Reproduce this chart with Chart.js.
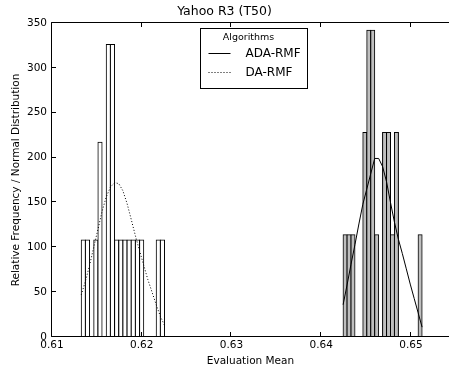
<!DOCTYPE html>
<html>
<head>
<meta charset="utf-8">
<script src="https://cdn.jsdelivr.net/npm/chart.js@4/dist/chart.umd.min.js"></script>
<style>
  html, body { margin: 0; padding: 0; background: #fff; }
</style>
</head>
<body>
<canvas id="histChart" width="449" height="369"></canvas>
<script>
// DA-RMF histogram (white bars) - bin edges and bar heights
const daEdges = [0.61326, 0.61372, 0.61419, 0.61465, 0.61512, 0.61558, 0.61604, 0.61651, 0.61697, 0.61744,
                 0.61790, 0.61836, 0.61883, 0.61929, 0.61976, 0.62022, 0.62068, 0.62115, 0.62161, 0.62208, 0.62254];
const daHeights = [108, 108, 0, 108, 217, 0, 326, 326, 108, 108, 108, 108, 108, 108, 108, 0, 0, 0, 108, 108];
const daCurve = [47, 62, 80, 100, 120, 140, 156, 167, 172, 171, 163, 149, 131, 113, 96, 80, 64, 50, 36, 23, 13];

// ADA-RMF histogram (grey bars)
const adaEdges = [0.64244, 0.64288, 0.64332, 0.64376, 0.64420, 0.64464, 0.64508, 0.64552, 0.64596, 0.64640,
                  0.64684, 0.64728, 0.64772, 0.64816, 0.64860, 0.64904, 0.64948, 0.64992, 0.65036, 0.65080, 0.65124];
const adaHeights = [114, 114, 114, 0, 0, 228, 342, 342, 114, 0, 228, 228, 114, 228, 0, 0, 0, 0, 0, 114];
const adaCurve = [36, 58, 81, 103, 126, 148, 165, 182, 199, 199, 190, 173, 150, 128, 109, 93, 76, 59, 43, 27, 11];

const xTicks = [0.61, 0.62, 0.63, 0.64, 0.65];
const yTicks = [0, 50, 100, 150, 200, 250, 300, 350];

const FONT = 'DejaVu Sans';

const barPoints = (edges, heights) => {
    const pts = [];
    heights.forEach((h, i) => {
        if (h > 0) pts.push({ x: (edges[i] + edges[i + 1]) / 2, y: h });
    });
    return pts;
};
const curvePoints = (edges, values) => edges.map((e, i) => ({ x: e, y: values[i] }));

// matplotlib-like box with inward ticks
const framePlugin = {
    id: 'frame',
    afterDatasetsDraw(chart) {
        const { ctx, chartArea: a, scales } = chart;
        ctx.save();
        ctx.strokeStyle = '#000';
        ctx.lineWidth = 1;
        ctx.beginPath();
        ctx.moveTo(a.left - 0.5, a.top - 0.5);
        ctx.lineTo(a.left - 0.5, a.bottom - 0.5);
        ctx.lineTo(a.right, a.bottom - 0.5);
        ctx.moveTo(a.left - 0.5, a.top - 0.5);
        ctx.lineTo(a.right, a.top - 0.5);
        scales.x.ticks.forEach(t => {
            const px = Math.round(scales.x.getPixelForValue(t.value)) - 0.5;
            ctx.moveTo(px, a.bottom - 0.5);
            ctx.lineTo(px, a.bottom - 5);
            ctx.moveTo(px, a.top - 0.5);
            ctx.lineTo(px, a.top + 4);
        });
        scales.y.ticks.forEach(t => {
            const py = Math.round(scales.y.getPixelForValue(t.value)) - 0.5;
            ctx.moveTo(a.left - 0.5, py);
            ctx.lineTo(a.left + 4, py);
        });
        ctx.stroke();
        ctx.restore();
    }
};

// boxed legend with title, like the original
const legendPlugin = {
    id: 'boxLegend',
    afterDraw(chart) {
        const { ctx, chartArea: a } = chart;
        const cx = (a.left + a.right) / 2;
        const bx = Math.round(cx - 51) + 0.5, by = Math.round(a.top + 5) + 0.5;
        ctx.save();
        ctx.fillStyle = '#fff';
        ctx.fillRect(bx, by, 107, 60);
        ctx.strokeStyle = '#000';
        ctx.lineWidth = 1;
        ctx.strokeRect(bx, by, 107, 60);

        ctx.fillStyle = '#000';
        ctx.textBaseline = 'middle';
        ctx.textAlign = 'center';
        ctx.font = '9.5px "' + FONT + '"';
        ctx.fillText('Algorithms', bx + 48, by + 9);

        ctx.textAlign = 'left';
        ctx.font = '12px "' + FONT + '"';
        const items = chart.data.datasets.filter(d => d.type === 'line');
        items.forEach((d, i) => {
            const y = Math.round(by + 24 + i * 19) + 0.5;
            ctx.beginPath();
            ctx.setLineDash(d.borderDash || []);
            ctx.strokeStyle = d.borderColor;
            ctx.moveTo(bx + 8, y);
            ctx.lineTo(bx + 30, y);
            ctx.stroke();
            ctx.setLineDash([]);
            ctx.fillText(d.label, bx + 45, y);
        });
        ctx.restore();
    }
};

const tickFont = { family: FONT, size: 10.5 };

new Chart(document.getElementById('histChart').getContext('2d'), {
    type: 'bar',
    data: {
        datasets: [
            {
                type: 'line', label: 'ADA-RMF', xAxisID: 'x',
                data: curvePoints(adaEdges, adaCurve),
                borderColor: '#000', borderWidth: 1, pointRadius: 0, tension: 0, fill: false, order: 0
            },
            {
                type: 'line', label: 'DA-RMF', xAxisID: 'x',
                data: curvePoints(daEdges, daCurve),
                borderColor: '#000', borderWidth: 1, borderDash: [1, 2], pointRadius: 0, tension: 0, fill: false, order: 0
            },
            {
                label: 'DA-RMF bins', xAxisID: 'x',
                data: barPoints(daEdges, daHeights),
                backgroundColor: '#ffffff', borderColor: '#000', borderWidth: 1, grouped: false,
                barPercentage: 1, categoryPercentage: 1, inflateAmount: 0.5, order: 1
            },
            {
                label: 'ADA-RMF bins', xAxisID: 'x2',
                data: barPoints(adaEdges, adaHeights),
                backgroundColor: '#bfbfbf', borderColor: '#000', borderWidth: 1, grouped: false,
                barPercentage: 1, categoryPercentage: 1, inflateAmount: 0.5, order: 1
            }
        ]
    },
    options: {
        responsive: false,
        animation: false,
        layout: { padding: 0 },
        plugins: {
            legend: { display: false },
            tooltip: { enabled: false },
            title: {
                display: true, text: 'Yahoo R3 (T50)', color: '#000',
                font: { family: FONT, size: 12.5, weight: 'normal' },
                padding: { top: 4, bottom: 4 }
            }
        },
        scales: {
            x: {
                type: 'linear', min: 0.61, max: 0.65424, offset: false,
                grid: { display: false, drawTicks: false },
                border: { display: false },
                afterBuildTicks: s => { s.ticks = xTicks.map(v => ({ value: v })); },
                ticks: { color: '#000', font: tickFont, padding: 2, maxRotation: 0, callback: v => v.toFixed(2) },
                title: { display: true, text: 'Evaluation Mean', color: '#000', font: tickFont, padding: { top: 0, bottom: 1 } },
                afterFit: s => { s.height = 32; }
            },
            x2: { type: 'linear', display: false, min: 0.61, max: 0.65424, offset: false },
            y: {
                min: 0, max: 350,
                grid: { display: false, drawTicks: false },
                border: { display: false },
                afterBuildTicks: s => { s.ticks = yTicks.map(v => ({ value: v })); },
                ticks: { color: '#000', font: tickFont, padding: 5 },
                title: { display: true, text: 'Relative Frequency / Normal Distribution', color: '#000', font: tickFont, padding: { top: 10, bottom: 0 } },
                afterFit: s => { s.width = 52; }
            }
        }
    },
    plugins: [framePlugin, legendPlugin]
});
</script>
</body>
</html>
